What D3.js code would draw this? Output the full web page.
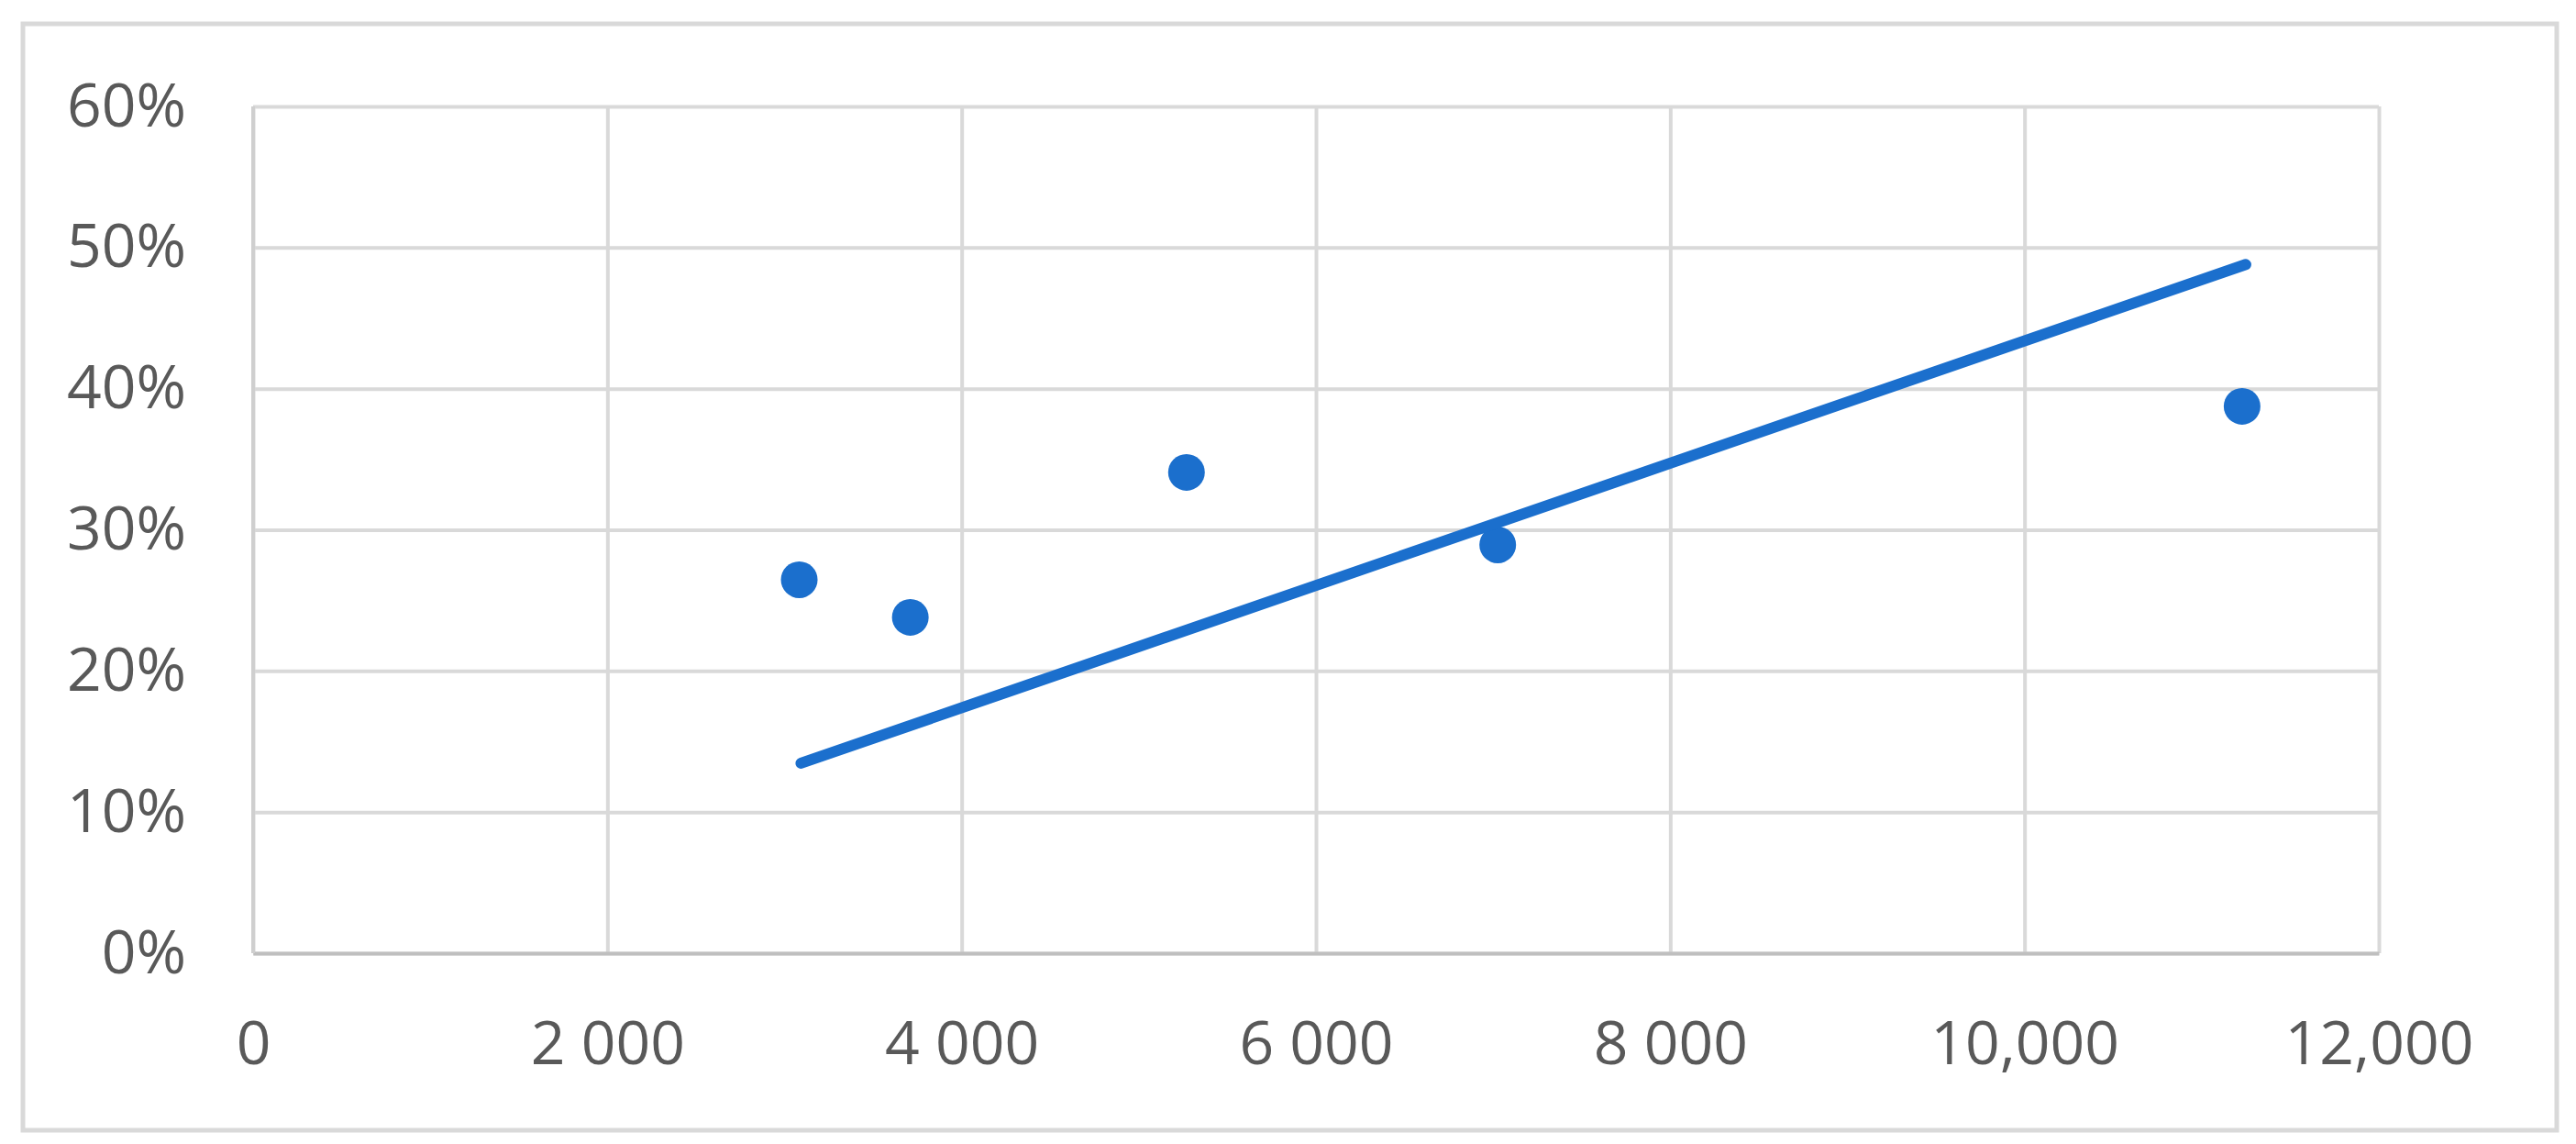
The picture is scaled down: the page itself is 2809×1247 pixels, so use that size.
<!DOCTYPE html>
<html>
<head>
<meta charset="utf-8">
<script src="https://cdn.jsdelivr.net/npm/d3@7"></script>
<style>
  body { margin: 0; background: #fff; }
  svg { display: block; }
  .tick text { font-family: "Open Sans", sans-serif; fill: #595959; }
</style>
</head>
<body>
<svg id="chart"></svg>
<script>
// values
const pointX = [3083, 3710, 5269, 7026, 11228];
const pointY = [0.2646, 0.238, 0.3407, 0.2893, 0.3875];
const trendX = [3093, 11249];
const trendY = [0.1346, 0.488];
const xTicks = [0, 2000, 4000, 6000, 8000, 10000, 12000];
const xTickLabels = ['0', '2 000', '4 000', '6 000', '8 000', '10,000', '12,000'];
const yTicks = [0, 0.1, 0.2, 0.3, 0.4, 0.5, 0.6];

const W = 2809, H = 1247;
const margin = {top: 116, right: 215, bottom: 208, left: 276};
const blue = '#1b6fcd';

const svg = d3.select('#chart').attr('width', W).attr('height', H);

// outer frame
svg.append('rect')
  .attr('x', 25).attr('y', 26)
  .attr('width', 2763).attr('height', 1206)
  .attr('fill', '#fff')
  .attr('stroke', '#d9d9d9')
  .attr('stroke-width', 5);

const x = d3.scaleLinear().domain([0, 12000]).range([margin.left, W - margin.right]);
const y = d3.scaleLinear().domain([0, 0.6]).range([H - margin.bottom, margin.top]);

// vertical grid
svg.append('g')
  .attr('transform', 'translate(0,' + y(0) + ')')
  .call(d3.axisBottom(x).tickValues(xTicks).tickSize(-(y(0) - y(0.6))).tickFormat(''))
  .call(g => g.select('.domain').remove())
  .call(g => g.selectAll('line').attr('stroke', '#d9d9d9').attr('stroke-width', 4));

// horizontal grid + y labels
svg.append('g')
  .attr('transform', 'translate(' + x(0) + ',0)')
  .call(d3.axisLeft(y).tickValues(yTicks).tickSize(-(x(12000) - x(0))).tickPadding(73).tickFormat(d3.format('.0%')))
  .call(g => g.select('.domain').remove())
  .call(g => g.selectAll('line').attr('stroke', '#d9d9d9').attr('stroke-width', 4))
  .call(g => g.selectAll('text').attr('font-size', 66));

// x axis line + labels
svg.append('g')
  .attr('transform', 'translate(0,' + y(0) + ')')
  .call(d3.axisBottom(x).tickValues(xTicks).tickSize(0).tickPadding(74)
    .tickFormat((d, i) => xTickLabels[i]))
  .call(g => g.select('.domain').attr('stroke', '#bfbfbf').attr('stroke-width', 4))
  .call(g => g.selectAll('text').attr('font-size', 66));

// left edge of plot
svg.append('line')
  .attr('x1', x(0)).attr('x2', x(0))
  .attr('y1', y(0.6)).attr('y2', y(0))
  .attr('stroke', '#cfcfcf').attr('stroke-width', 4);

// points
svg.append('g').selectAll('circle')
  .data(pointX.map((d, i) => [d, pointY[i]]))
  .join('circle')
  .attr('cx', d => x(d[0]))
  .attr('cy', d => y(d[1]))
  .attr('r', 20)
  .attr('fill', blue);

// trend line
const trend = d3.line().x(d => x(d[0])).y(d => y(d[1]));
svg.append('path')
  .datum(trendX.map((d, i) => [d, trendY[i]]))
  .attr('d', trend)
  .attr('fill', 'none')
  .attr('stroke', blue)
  .attr('stroke-width', 12)
  .attr('stroke-linecap', 'round');
</script>
</body>
</html>
